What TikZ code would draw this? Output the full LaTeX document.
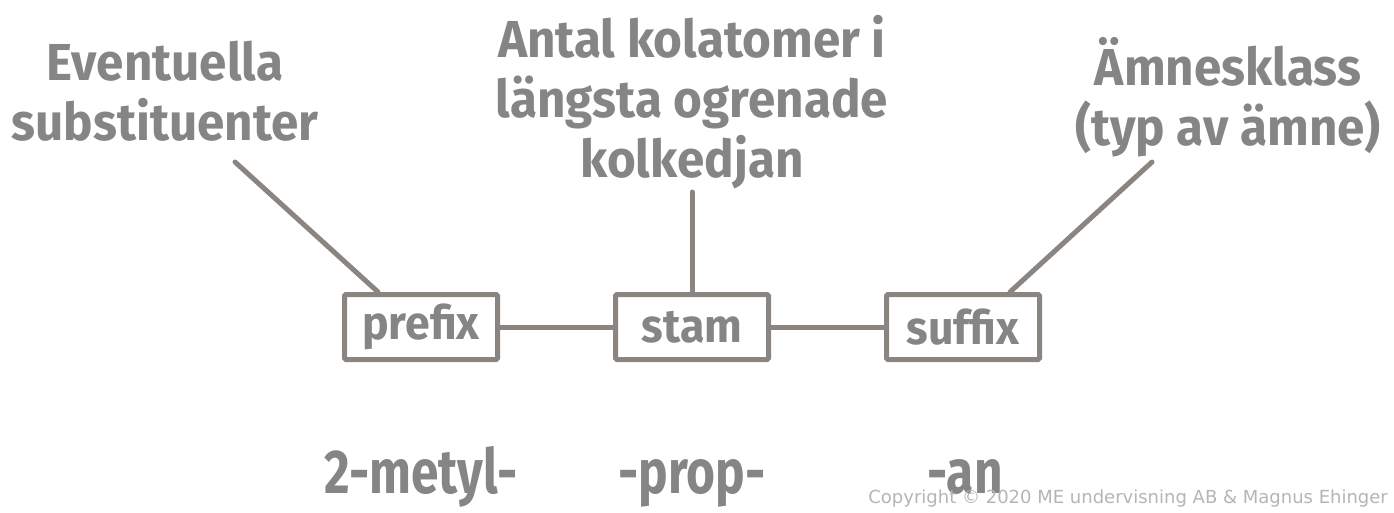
\documentclass[tikz,border=0pt]{standalone}
\usepackage{fontspec}
\usepackage{tikz}
\usetikzlibrary{positioning}
\newfontfamily\handfont[FakeStretch=0.95]{Fira Sans}
\newfontfamily\examplefont[FakeStretch=0.8]{Fira Sans}
\newfontfamily\copyfont{DejaVu Sans}
\definecolor{textgrey}{HTML}{858585}
\definecolor{linegrey}{HTML}{8B8581}
\definecolor{copygrey}{HTML}{B5B5B5}
\tikzstyle{edge}=[
	-,
	line width=5pt,
	line cap=round,
	draw=linegrey
]
\tikzstyle{part}=[
	rectangle,
	draw=linegrey,
	line width=5pt,
	rounded corners=1.5pt,
	minimum width=153pt,
	minimum height=65pt,
	inner sep=0pt,
	text=textgrey,
	font=\handfont\bfseries\fontsize{47}{50}\selectfont
]
\tikzstyle{label}=[
	align=center,
	text=textgrey,
	inner sep=0pt,
	font=\handfont\bfseries\fontsize{52}{60}\selectfont
]
\tikzstyle{example}=[
	anchor=base,
	text=textgrey,
	inner sep=0pt,
	font=\examplefont\bfseries\fontsize{62}{62}\selectfont
]
\begin{document}
\begin{tikzpicture}[x=1pt, y=-1pt]
\useasboundingbox (0,0) rectangle (1394,512);
\node[part] (prefix) at (421,327) {prefix};
\node[part, right=113pt of prefix] (stam) {stam};
\node[part, right=113pt of stam] (suffix) {suffix};

\node[label, anchor=base] (subst) at (165,140) {Eventuella\\substituenter};
\node[label, anchor=base] (antal) at (692,177) {Antal kolatomer i\\längsta ogrenade\\kolkedjan};
\node[label, anchor=base] (klass) at (1228,145) {Ämnesklass\\(typ av ämne)};

\node[example] (metyl) at (421,493) {2-metyl-};
\node[example] (prop) at (692,493) {-prop-};
\node[example] (an) at (965,493) {-an};

\node[anchor=base east, text=copygrey, inner sep=0pt, font=\copyfont\fontsize{18}{18}\selectfont] (copy) at (1388,503) {Copyright © 2020 ME undervisning AB \& Magnus Ehinger};

\coordinate (subst-end) at (235,162);
\coordinate (antal-end) at (692,192);
\coordinate (klass-end) at (1152,162);

\draw[edge] (prefix) to (stam);
\draw[edge] (stam) to (suffix);
\draw[edge] (subst-end) to ([xshift=-43pt]prefix.north);
\draw[edge] (antal-end) to (stam.north);
\draw[edge] (klass-end) to ([xshift=47pt]suffix.north);
\end{tikzpicture}
\end{document}
